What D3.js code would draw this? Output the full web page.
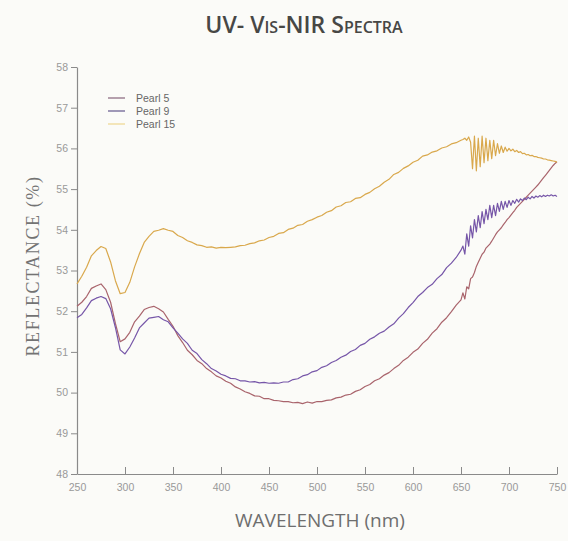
<!DOCTYPE html>
<html>
<head>
<meta charset="utf-8">
<script src="https://cdn.jsdelivr.net/npm/d3@7"></script>
<style>
  html, body { margin: 0; padding: 0; background: #fbfbf8; }
  svg { display: block; }
</style>
</head>
<body>
<div id="chart"></div>
<script>
// Sampling grids (nm): coarse part 250-650 every 5 nm, fine part 652-750 every 2 nm
const wlCoarse = d3.range(250, 651, 5);
const wlFine = d3.range(652, 751, 2);

// Pearl 5 reflectance (%)
const pearl5Coarse = [
  52.12, 52.22, 52.36, 52.56, 52.62, 52.67, 52.53, 52.22, 51.7, 51.25,
  51.32, 51.48, 51.74, 51.88, 52.04, 52.09, 52.12, 52.06, 51.98, 51.8,
  51.63, 51.4, 51.23, 51.04, 50.93, 50.79, 50.71, 50.59, 50.51, 50.41,
  50.36, 50.28, 50.23, 50.14, 50.09, 50.02, 49.98, 49.92, 49.91, 49.85,
  49.85, 49.81, 49.8, 49.78, 49.78, 49.75, 49.76, 49.73, 49.77, 49.74,
  49.78, 49.78, 49.81, 49.82, 49.87, 49.89, 49.94, 49.96, 50.03, 50.07,
  50.15, 50.2, 50.29, 50.34, 50.43, 50.49, 50.59, 50.67, 50.79, 50.87,
  50.99, 51.07, 51.21, 51.31, 51.46, 51.57, 51.73, 51.84, 51.99, 52.15,
  52.28
];
const pearl5Fine = [
  52.45, 52.3, 52.6, 52.55, 52.8, 52.84, 52.95, 53.1, 53.2, 53.3,
  53.4, 53.45, 53.55, 53.6, 53.65, 53.72, 53.8, 53.88, 53.95, 54.0,
  54.05, 54.12, 54.18, 54.25, 54.3, 54.36, 54.42, 54.48, 54.55, 54.6,
  54.65, 54.7, 54.75, 54.8, 54.85, 54.9, 54.95, 55.0, 55.05, 55.1,
  55.16, 55.22, 55.28, 55.34, 55.4, 55.46, 55.52, 55.58, 55.63, 55.67
];

// Pearl 9 reflectance (%)
const pearl9Coarse = [
  51.84, 51.92, 52.08, 52.26, 52.32, 52.36, 52.31, 52.06, 51.6, 51.05,
  50.95, 51.12, 51.34, 51.59, 51.71, 51.83, 51.85, 51.87, 51.79, 51.74,
  51.59, 51.46, 51.32, 51.21, 51.04, 50.96, 50.81, 50.71, 50.59, 50.53,
  50.45, 50.41, 50.35, 50.34, 50.29, 50.29, 50.26, 50.27, 50.24, 50.25,
  50.23, 50.24, 50.23, 50.26, 50.26, 50.32, 50.34, 50.41, 50.44, 50.51,
  50.54, 50.62, 50.66, 50.74, 50.79, 50.87, 50.92, 51.01, 51.06, 51.16,
  51.21, 51.31, 51.37, 51.46, 51.51, 51.61, 51.69, 51.83, 51.94, 52.09,
  52.21, 52.36, 52.46, 52.58, 52.66, 52.8, 52.9, 53.07, 53.18, 53.32,
  53.5
];
const pearl9Fine = [
  53.6, 53.4, 53.9, 53.6, 54.1, 53.8, 54.25, 53.95, 54.35, 54.05,
  54.45, 54.15, 54.5, 54.25, 54.6, 54.3, 54.6, 54.35, 54.65, 54.45,
  54.7, 54.5, 54.7, 54.55, 54.72, 54.6, 54.72, 54.65, 54.75, 54.68,
  54.76, 54.72, 54.78, 54.74, 54.8, 54.76, 54.82, 54.78, 54.83, 54.8,
  54.84, 54.81, 54.85, 54.82, 54.85, 54.83, 54.86, 54.83, 54.85, 54.82
];

// Pearl 15 reflectance (%)
const pearl15Coarse = [
  52.67, 52.86, 53.08, 53.36, 53.49, 53.59, 53.54, 53.21, 52.75, 52.43,
  52.46, 52.71, 53.09, 53.41, 53.69, 53.84, 53.96, 53.99, 54.03, 53.99,
  53.96, 53.86, 53.81, 53.73, 53.69, 53.63, 53.61, 53.57, 53.58, 53.55,
  53.57, 53.56, 53.57, 53.58, 53.61, 53.62, 53.66, 53.68, 53.73, 53.75,
  53.81, 53.84, 53.91, 53.93, 54.01, 54.04, 54.11, 54.13, 54.21, 54.25,
  54.31, 54.35, 54.43, 54.47, 54.56, 54.59, 54.67, 54.69, 54.77, 54.79,
  54.87, 54.92, 55.01, 55.07, 55.17, 55.24, 55.36, 55.41, 55.51, 55.57,
  55.66, 55.71, 55.81, 55.84, 55.91, 55.94, 56.01, 56.04, 56.11, 56.14,
  56.2
];
const pearl15Fine = [
  56.22, 56.25, 56.2, 56.28, 56.15, 55.5, 56.3, 55.45, 56.25, 55.55,
  56.3, 55.65, 56.25, 55.7, 56.2, 55.75, 56.2, 55.82, 56.12, 55.88,
  56.06, 55.9, 56.03, 55.93, 56.0, 55.94, 55.98, 55.92, 55.95, 55.9,
  55.92, 55.87, 55.88, 55.84, 55.85, 55.82, 55.83, 55.8, 55.8, 55.78,
  55.77, 55.76, 55.74, 55.74, 55.72, 55.71, 55.7, 55.69, 55.68, 55.66
];

const seriesNames = ['Pearl 5', 'Pearl 9', 'Pearl 15'];
const seriesColors = ['#a9646c', '#7656a8', '#d9a84c'];
const legendColors = ['#8f6f84', '#6c6294', '#efd896'];

const xTicks = [250, 300, 350, 400, 450, 500, 550, 600, 650, 700, 750];
const yTicks = [48, 49, 50, 51, 52, 53, 54, 55, 56, 57, 58];

const W = 568, H = 541;

const svg = d3.select('#chart').append('svg')
  .attr('width', W)
  .attr('height', H);

svg.append('rect').attr('width', W).attr('height', H).attr('fill', '#fbfbf8');

const x = d3.scaleLinear().domain([250, 750]).range([77, 557]);
const y = d3.scaleLinear().domain([48, 58]).range([474, 67]);

// join coarse and fine parts into one list of points per series
function toPoints(coarse, fine) {
  const pts = wlCoarse.map((w, i) => [w, coarse[i]]);
  wlFine.forEach((w, i) => pts.push([w, fine[i]]));
  return pts;
}
const seriesData = [
  toPoints(pearl5Coarse, pearl5Fine),
  toPoints(pearl9Coarse, pearl9Fine),
  toPoints(pearl15Coarse, pearl15Fine)
];

const axisColor = '#8a8a8a';
const tickFont = '"Liberation Sans", Arial, sans-serif';

// Y axis (ticks point left)
const gy = svg.append('g')
  .attr('transform', `translate(${x(250)},0)`)
  .call(d3.axisLeft(y).tickValues(yTicks).tickSize(6).tickSizeOuter(0).tickPadding(3));
gy.select('.domain').attr('stroke', axisColor).attr('stroke-width', 1.2);
gy.selectAll('line').attr('stroke', axisColor);
gy.selectAll('text')
  .attr('fill', '#999')
  .style('font-family', tickFont)
  .style('font-size', '10.5px');

// X axis (ticks point up into the plot)
const gx = svg.append('g')
  .attr('transform', `translate(0,${y(48)})`)
  .call(d3.axisBottom(x).tickValues(xTicks).tickSize(0).tickSizeOuter(0).tickPadding(10));
gx.select('.domain').attr('stroke', axisColor).attr('stroke-width', 1.2);
gx.selectAll('.tick line').attr('y2', -7).attr('stroke', axisColor);
gx.selectAll('text')
  .attr('fill', '#999')
  .style('font-family', tickFont)
  .style('font-size', '10.5px');

// Lines
const line = d3.line()
  .x(d => x(d[0]))
  .y(d => y(d[1]));

svg.selectAll('.series')
  .data(seriesData)
  .enter()
  .append('path')
  .attr('class', 'series')
  .attr('d', line)
  .attr('fill', 'none')
  .attr('stroke', (d, i) => seriesColors[i])
  .attr('stroke-width', 1.2)
  .attr('stroke-linejoin', 'round');

// Legend
const legend = svg.append('g').attr('transform', 'translate(108,98)');
seriesNames.forEach((name, i) => {
  const row = legend.append('g').attr('transform', `translate(0,${i * 13})`);
  row.append('line')
    .attr('x1', 0).attr('x2', 17)
    .attr('y1', 0).attr('y2', 0)
    .attr('stroke', legendColors[i])
    .attr('stroke-width', 1.3);
  row.append('text')
    .attr('x', 28).attr('y', 4)
    .attr('fill', '#666')
    .style('font-family', tickFont)
    .style('font-size', '10.5px')
    .text(name);
});

// Title
svg.append('text')
  .attr('x', 304)
  .attr('y', 33)
  .attr('text-anchor', 'middle')
  .attr('fill', '#474745')
  .style('font-family', '"Open Sans", "Noto Sans", sans-serif')
  .style('font-weight', '600')
  .style('font-size', '23px')
  .style('font-variant', 'small-caps')
  .text('UV- Vis-NIR Spectra');

// Axis titles
svg.append('text')
  .attr('transform', 'translate(39,266) rotate(-90)')
  .attr('text-anchor', 'middle')
  .attr('fill', '#737373')
  .style('font-family', '"Liberation Serif", "DejaVu Serif", serif')
  .style('font-size', '18px')
  .style('letter-spacing', '1.6px')
  .text('REFLECTANCE (%)');

svg.append('text')
  .attr('x', 320)
  .attr('y', 527)
  .attr('text-anchor', 'middle')
  .attr('fill', '#6e6e6e')
  .style('font-family', '"Open Sans", "Noto Sans", sans-serif')
  .style('font-size', '19px')
  .text('WAVELENGTH (nm)');
</script>
</body>
</html>
